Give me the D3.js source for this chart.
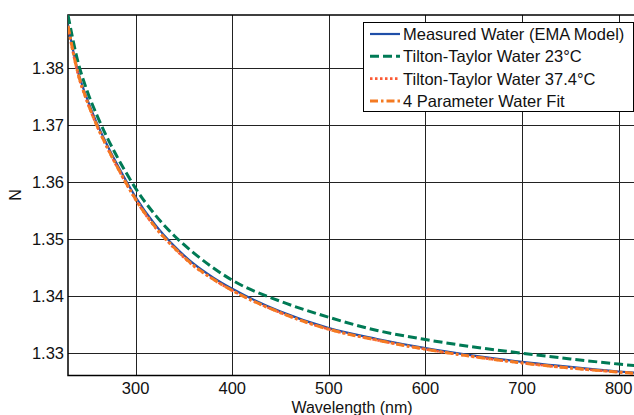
<!DOCTYPE html>
<html>
<head>
<meta charset="utf-8">
<script src="https://cdn.jsdelivr.net/npm/d3@7/dist/d3.min.js"></script>
<style>
  body { margin: 0; background: #fff; }
  svg { display: block; font-family: "Liberation Sans", Arial, Helvetica, sans-serif; }
</style>
</head>
<body>
<svg id="chart" width="634" height="415"></svg>
<script>
// values
const wavelengths = [230, 240, 250, 260, 270, 280, 290, 300, 320, 340, 360, 380, 400, 450, 500, 550, 600, 650, 700, 750, 800, 830];
const measuredWater = [1.3876, 1.3796, 1.3745, 1.3703, 1.3667, 1.3634, 1.3603, 1.3574, 1.3526, 1.3488, 1.3457, 1.3433, 1.3413, 1.3373, 1.3344, 1.3325, 1.3309, 1.3296, 1.3285, 1.3276, 1.3268, 1.3264];
const tiltonTaylor23 = [1.3893, 1.3813, 1.3759, 1.3717, 1.3680, 1.3647, 1.3617, 1.3589, 1.3543, 1.3506, 1.3476, 1.3450, 1.3428, 1.3391, 1.3363, 1.3340, 1.3324, 1.3311, 1.3300, 1.3290, 1.3281, 1.3276];
const tiltonTaylor374 = [1.3872, 1.3791, 1.3740, 1.3698, 1.3662, 1.3629, 1.3598, 1.3569, 1.3521, 1.3484, 1.3453, 1.3430, 1.3410, 1.3371, 1.3342, 1.3323, 1.3307, 1.3294, 1.3283, 1.3274, 1.3267, 1.3263];
const waterFit4 = [1.3874, 1.3793, 1.3741, 1.3699, 1.3663, 1.3630, 1.3599, 1.3570, 1.3522, 1.3485, 1.3454, 1.3430, 1.3410, 1.3371, 1.3342, 1.3323, 1.3307, 1.3294, 1.3283, 1.3274, 1.3267, 1.3263];

const xTicks = [300, 400, 500, 600, 700, 800];
const yTicks = [1.33, 1.34, 1.35, 1.36, 1.37, 1.38];

const series = [
  { name: "Measured Water (EMA Model)", values: measuredWater, color: "#1f4fa8", width: 2.2, dash: null },
  { name: "Tilton-Taylor Water 23\u00B0C", values: tiltonTaylor23, color: "#007a55", width: 3, dash: "9,4" },
  { name: "Tilton-Taylor Water 37.4\u00B0C", values: tiltonTaylor374, color: "#fb5a35", width: 2.6, dash: "2.5,2.5" },
  { name: "4 Parameter Water Fit", values: waterFit4, color: "#f47a22", width: 3, dash: "8,3,2.5,3" }
];

const svg = d3.select("#chart");
const plotL = 68, plotT = 15, plotB = 375.5, plotR = 638;

const x = d3.scaleLinear().domain([230, 820]).range([plotL, plotR]);
const y = d3.scaleLinear().domain([1.3261, 1.3893]).range([plotB, plotT]);

// grid
svg.append("g").selectAll("line").data(xTicks).enter().append("line")
  .attr("x1", d => Math.round(x(d)) + 0.5).attr("x2", d => Math.round(x(d)) + 0.5)
  .attr("y1", plotT).attr("y2", plotB)
  .attr("stroke", "#222").attr("stroke-width", 1);
svg.append("g").selectAll("line").data(yTicks).enter().append("line")
  .attr("x1", plotL).attr("x2", plotR)
  .attr("y1", d => Math.round(y(d)) + 0.5).attr("y2", d => Math.round(y(d)) + 0.5)
  .attr("stroke", "#222").attr("stroke-width", 1);

// axes frame
svg.append("rect").attr("x", plotL).attr("y", plotT).attr("width", plotR - plotL).attr("height", plotB - plotT)
  .attr("fill", "none").attr("stroke", "#000").attr("stroke-width", 1.5);

// tick labels
svg.append("g").selectAll("text").data(xTicks).enter().append("text")
  .attr("x", d => x(d)).attr("y", 394).attr("text-anchor", "middle")
  .attr("font-size", 16.5).attr("fill", "#111").text(d => d);
svg.append("g").selectAll("text").data(yTicks).enter().append("text")
  .attr("x", 64).attr("y", d => y(d)).attr("dy", "0.36em").attr("text-anchor", "end")
  .attr("font-size", 16.5).attr("fill", "#111").text(d => d3.format(".2f")(d));

svg.append("text").attr("x", 352).attr("y", 413).attr("text-anchor", "middle")
  .attr("font-size", 16).attr("fill", "#111").text("Wavelength (nm)");
svg.append("text").attr("transform", "translate(21,195) rotate(-90)").attr("text-anchor", "middle")
  .attr("font-size", 16).attr("fill", "#111").text("N");

// curves
svg.append("clipPath").attr("id", "plotclip").append("rect")
  .attr("x", plotL).attr("y", plotT).attr("width", plotR - plotL).attr("height", plotB - plotT);

const line = d3.line().curve(d3.curveMonotoneX)
  .x((d, i) => x(wavelengths[i])).y(d => y(d));

svg.append("g").attr("clip-path", "url(#plotclip)")
  .selectAll("path").data(series).enter().append("path")
  .attr("d", s => line(s.values))
  .attr("fill", "none")
  .attr("stroke", s => s.color)
  .attr("stroke-width", s => s.width)
  .attr("stroke-dasharray", s => s.dash);

// legend
const lg = svg.append("g");
lg.append("rect").attr("x", 363.5).attr("y", 22.5).attr("width", 270).attr("height", 89)
  .attr("fill", "#fff").attr("stroke", "#000").attr("stroke-width", 1);
const rows = lg.selectAll("g.row").data(series).enter().append("g")
  .attr("transform", (s, i) => `translate(0,${34 + i * 22.3})`);
rows.append("line").attr("x1", 370).attr("x2", 400).attr("y1", 0).attr("y2", 0)
  .attr("stroke", s => s.color).attr("stroke-width", s => s.width)
  .attr("stroke-dasharray", s => s.dash);
rows.append("text").attr("x", 403).attr("y", 0).attr("dy", "0.36em")
  .attr("font-size", 16.5).attr("fill", "#111").text(s => s.name);
</script>
</body>
</html>
